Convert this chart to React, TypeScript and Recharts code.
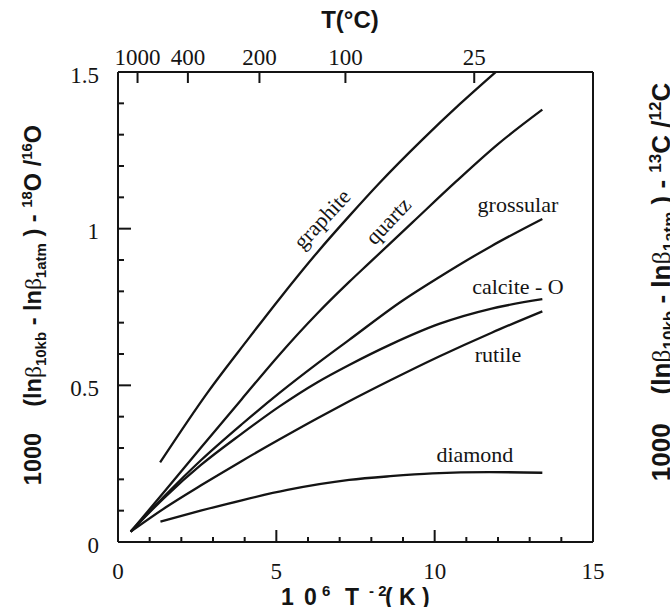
import React from "react";
import { LineChart, Line, XAxis, YAxis, ReferenceDot } from "recharts";

// values: [10^6 T^-2, 1000 (lnβ10kb - lnβ1atm)]
const GRAPHITE: [number, number][] = [
  [1.33, 0.254], [2.85, 0.48], [4.09, 0.645], [5.09, 0.775], [6.3, 0.925],
  [7.3, 1.04], [8.25, 1.145], [9.62, 1.285], [10.8, 1.398], [11.93, 1.5],
];
const QUARTZ: [number, number][] = [
  [0.4, 0.033], [1.5, 0.165], [2.61, 0.3], [3.9, 0.455], [5.09, 0.597], [6.3, 0.73],
  [7.3, 0.83], [7.93, 0.89], [9.3, 1.02], [10.67, 1.15], [12, 1.27], [13.4, 1.38],
];
const GROSSULAR: [number, number][] = [
  [0.4, 0.033], [1.5, 0.15], [2.61, 0.26], [3.9, 0.375], [5.09, 0.475], [6.3, 0.57],
  [7.3, 0.645], [8.98, 0.77], [10.14, 0.845], [11.8, 0.945], [13.4, 1.031],
];
const CALCITE: [number, number][] = [
  [0.4, 0.033], [1.5, 0.145], [2.61, 0.245], [3.9, 0.345], [5.09, 0.432], [6.3, 0.51],
  [7.3, 0.565], [8.6, 0.63], [10.14, 0.696], [11.8, 0.745], [13.4, 0.775],
];
const RUTILE: [number, number][] = [
  [0.4, 0.033], [1.5, 0.11], [2.61, 0.18], [3.9, 0.258], [5.09, 0.327], [6.3, 0.395],
  [7.3, 0.449], [8.6, 0.516], [10.14, 0.592], [11.8, 0.668], [13.4, 0.736],
];
const DIAMOND: [number, number][] = [
  [1.34, 0.065], [2.61, 0.1], [3.94, 0.134], [5.35, 0.166], [7.3, 0.198],
  [8.6, 0.21], [9.93, 0.219], [11.72, 0.223], [13.4, 0.221],
];

const SERIES = [
  { name: "graphite", points: GRAPHITE },
  { name: "quartz", points: QUARTZ },
  { name: "grossular", points: GROSSULAR },
  { name: "calcite - O", points: CALCITE },
  { name: "rutile", points: RUTILE },
  { name: "diamond", points: DIAMOND },
];

// curve names, anchored in data coordinates
const CURVE_LABELS = [
  { text: "graphite", x: 6.44, y: 1.031, angle: -47 },
  { text: "quartz", x: 8.53, y: 1.025, angle: -47 },
  { text: "grossular", x: 12.63, y: 1.076, angle: 0 },
  { text: "calcite - O", x: 12.63, y: 0.814, angle: 0 },
  { text: "rutile", x: 12.0, y: 0.597, angle: 0 },
  { text: "diamond", x: 11.27, y: 0.278, angle: 0 },
];

const X_TICKS = [0, 1, 2, 3, 4, 5, 6, 7, 8, 9, 10, 11, 12, 13, 14, 15];
const X_MAJOR = [0, 5, 10, 15];
const Y_TICKS = [0, 0.1, 0.2, 0.3, 0.4, 0.5, 0.6, 0.7, 0.8, 0.9, 1, 1.1, 1.2, 1.3, 1.4, 1.5];
const Y_MAJOR = [0, 0.5, 1, 1.5];
const R_TICKS = [0, 0.5, 1, 1.5, 2, 2.5, 3, 3.5, 4];
const R_MAJOR = [0, 1, 2, 3, 4];
const TOP_TEMPS = [1000, 400, 200, 100, 25];
// top axis: same abscissa expressed in °C
const TOP_TICKS = TOP_TEMPS.map((t) => 1e6 / (t + 273.15) ** 2);

const INK = "#141414";
const SERIF = '"Liberation Serif", "Times New Roman", serif';
const SANS = '"Liberation Sans", Arial, sans-serif';

const tickText = { fontFamily: SERIF, fontSize: 23, fill: INK };

function BottomTick(props: any) {
  const { x, y, payload } = props;
  const major = X_MAJOR.includes(payload.value);
  return (
    <g>
      <path d={`M${x},${y}V${y - (major ? 12 : 5)}`} stroke={INK} strokeWidth={2} fill="none" />
      {major && (
        <text x={x} y={y + 29} textAnchor="middle" dominantBaseline="central" {...tickText}>
          {payload.value}
        </text>
      )}
    </g>
  );
}

function TopTick(props: any) {
  const { x, y, index } = props;
  return (
    <g>
      <path d={`M${x},${y}V${y + 11}`} stroke={INK} strokeWidth={2} fill="none" />
      <text x={x} y={y - 15} textAnchor="middle" dominantBaseline="central" {...tickText}>
        {TOP_TEMPS[index]}
      </text>
    </g>
  );
}

function LeftTick(props: any) {
  const { x, y, payload } = props;
  const major = Y_MAJOR.includes(payload.value);
  return (
    <g>
      <path d={`M${x},${y}H${x + (major ? 13 : 6)}`} stroke={INK} strokeWidth={2} fill="none" />
      {major && (
        <text x={x - 19} y={y + 3} textAnchor="end" dominantBaseline="central" {...tickText}>
          {payload.value}
        </text>
      )}
    </g>
  );
}

function RightTick(props: any) {
  const { x, y, payload } = props;
  const major = R_MAJOR.includes(payload.value);
  return (
    <g>
      <path d={`M${x},${y}H${x - (major ? 13 : 6)}`} stroke={INK} strokeWidth={2} fill="none" />
      {major && (
        <text x={x + 19} y={y} textAnchor="start" dominantBaseline="central" {...tickText}>
          {payload.value}
        </text>
      )}
    </g>
  );
}

function AxisTitle({ iso, transform, size }: { iso: [string, string, string, string]; transform: string; size: number }) {
  const sub = { fontSize: Math.round(size * 0.65) };
  const greek = { fontWeight: 400, fontFamily: SERIF };
  return (
    <text
      transform={transform}
      textAnchor="middle"
      fontSize={size}
      fontFamily={SANS}
      fontWeight={700}
      fill={INK}
      style={{ whiteSpace: "pre" }}
    >
      <tspan>{"1000    (ln"}</tspan>
      <tspan {...greek}>β</tspan>
      <tspan {...sub} dy={5}>10kb</tspan>
      <tspan dy={-5}>{" - ln"}</tspan>
      <tspan {...greek}>β</tspan>
      <tspan {...sub} dy={5}>1atm</tspan>
      <tspan dy={-5}>{" ) - "}</tspan>
      <tspan {...sub} dy={-9}>{iso[0]}</tspan>
      <tspan dy={9}>{iso[1] + " /"}</tspan>
      <tspan {...sub} dy={-9}>{iso[2]}</tspan>
      <tspan dy={9}>{iso[3]}</tspan>
    </text>
  );
}

function Titles() {
  const bold = { fontFamily: SANS, fontWeight: 700, fill: INK };
  const sup = { fontSize: 15 };
  return (
    <svg width={670} height={607} style={{ position: "absolute", left: 0, top: 0, pointerEvents: "none" }}>
      <text x={350} y={28} textAnchor="middle" fontSize={24} {...bold}>T(°C)</text>
      <text y={605} fontSize={23} {...bold}>
        <tspan x={281}>1</tspan>
        <tspan x={304}>0</tspan>
        <tspan x={322} dy={-9} {...sup}>6</tspan>
        <tspan x={345} dy={9}>T</tspan>
        <tspan x={369} dy={-9} {...sup}>- 2</tspan>
        <tspan x={385} dy={9}>( K )</tspan>
      </text>
      <AxisTitle iso={["18", "O", "16", "O"]} transform="translate(41,305) rotate(-90)" size={23.5} />
      <AxisTitle iso={["13", "C", "12", "C"]} transform="translate(670,282) rotate(-90)" size={26} />
    </svg>
  );
}

export default function App() {
  return (
    <div style={{ position: "absolute", left: 0, top: 0, width: 670, height: 607, background: "#fff" }}>
      <LineChart width={670} height={607} margin={{ top: 32, right: 17, bottom: 25, left: 58 }}>
        <XAxis
          xAxisId="bottom"
          dataKey="x"
          type="number"
          domain={[0, 15]}
          ticks={X_TICKS}
          interval={0}
          height={40}
          tickSize={0}
          tickMargin={0}
          tickLine={false}
          axisLine={{ stroke: INK, strokeWidth: 2 }}
          tick={BottomTick}
        />
        <XAxis
          xAxisId="top"
          dataKey="x"
          orientation="top"
          type="number"
          domain={[0, 15]}
          ticks={TOP_TICKS}
          interval={0}
          height={40}
          tickSize={0}
          tickMargin={0}
          tickLine={false}
          axisLine={{ stroke: INK, strokeWidth: 2 }}
          tick={TopTick}
        />
        <YAxis
          yAxisId="left"
          type="number"
          domain={[0, 1.5]}
          ticks={Y_TICKS}
          interval={0}
          width={60}
          tickSize={0}
          tickMargin={0}
          tickLine={false}
          axisLine={{ stroke: INK, strokeWidth: 2 }}
          tick={LeftTick}
        />
        <YAxis
          yAxisId="right"
          orientation="right"
          type="number"
          domain={[0, 4]}
          ticks={R_TICKS}
          interval={0}
          width={60}
          tickSize={0}
          tickMargin={0}
          tickLine={false}
          axisLine={{ stroke: INK, strokeWidth: 2 }}
          tick={RightTick}
        />
        {SERIES.map((s, i) => (
          <Line
            key={s.name}
            // the top axis shares the bottom one's 0–15 scale; binding one curve to it makes it draw its ticks
            xAxisId={i === SERIES.length - 1 ? "top" : "bottom"}
            yAxisId="left"
            data={s.points.map(([x, y]) => ({ x, y }))}
            dataKey="y"
            type="monotone"
            stroke={INK}
            strokeWidth={2.3}
            dot={false}
            activeDot={false}
            isAnimationActive={false}
          />
        ))}
        {CURVE_LABELS.map((l) => (
          <ReferenceDot
            key={l.text}
            xAxisId="bottom"
            yAxisId="left"
            x={l.x}
            y={l.y}
            shape={(p: any) => (
              <text
                x={p.cx}
                y={p.cy}
                transform={`rotate(${l.angle} ${p.cx} ${p.cy})`}
                textAnchor="middle"
                dominantBaseline="central"
                {...tickText}
                fontSize={22}
              >
                {l.text}
              </text>
            )}
          />
        ))}
      </LineChart>
      <Titles />
    </div>
  );
}
